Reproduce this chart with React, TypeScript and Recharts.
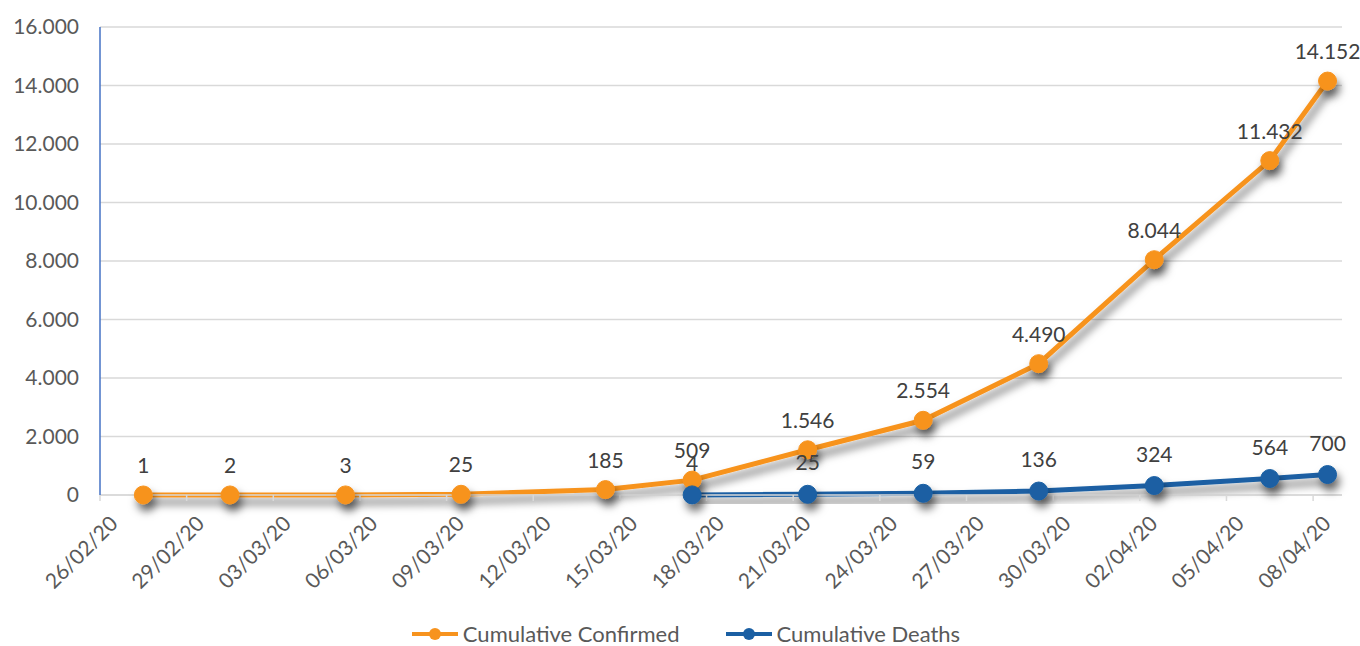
import React from "react";
import {
  LineChart,
  Line,
  XAxis,
  YAxis,
  CartesianGrid,
  LabelList,
} from "recharts";

const dates = [
  "27/02/20", "01/03/20", "05/03/20", "09/03/20", "14/03/20", "17/03/20",
  "21/03/20", "25/03/20", "29/03/20", "02/04/20", "06/04/20", "08/04/20",
];
const confirmed = [1, 2, 3, 25, 185, 509, 1546, 2554, 4490, 8044, 11432, 14152];
const deaths = [null, null, null, null, null, 4, 25, 59, 136, 324, 564, 700];

const tickLabels = [
  "26/02/20", "29/02/20", "03/03/20", "06/03/20", "09/03/20", "12/03/20",
  "15/03/20", "18/03/20", "21/03/20", "24/03/20", "27/03/20", "30/03/20",
  "02/04/20", "05/04/20", "08/04/20",
];
const yTicks = [0, 2000, 4000, 6000, 8000, 10000, 12000, 14000, 16000];

const ORANGE = "#F7931E";
const BLUE = "#1A5FA3";
const FONT = "Lato, 'Open Sans', sans-serif";

const toDay = (s: string) => {
  const [d, m, y] = s.split("/").map(Number);
  return Date.UTC(2000 + y, m - 1, d) / 86400000;
};
const START = toDay(tickLabels[0]);

const data = dates.map((d, i) => ({
  x: toDay(d) - START + 0.5,
  confirmed: confirmed[i],
  deaths: deaths[i],
}));
const xTicks = tickLabels.map((t) => toDay(t) - START);

const fmt = (v: number) =>
  String(Math.round(v)).replace(/\B(?=(\d{3})+(?!\d))/g, ".");

const DateTick = (props: any) => {
  const { x, y, payload } = props;
  const label = tickLabels[xTicks.indexOf(payload.value)] ?? "";
  return (
    <g transform={`translate(${x + 19},${y + 22})`}>
      <text
        x={0}
        y={0}
        transform="rotate(-45)"
        textAnchor="end"
        fill="#595959"
        fontSize={21}
        fontFamily={FONT}
      >
        {label}
      </text>
    </g>
  );
};

const LegendItem = ({ color, text }: { color: string; text: string }) => (
  <div style={{ display: "flex", alignItems: "center", marginRight: 46, height: 22 }}>
    <svg width={46} height={14} style={{ marginRight: 5 }}>
      <line x1={0} y1={7} x2={46} y2={7} stroke={color} strokeWidth={4} />
      <circle cx={23} cy={7} r={6} fill={color} />
    </svg>
    <span style={{ color: "#595959", fontSize: 22, lineHeight: "22px", fontFamily: FONT }}>{text}</span>
  </div>
);

export default function App() {
  return (
    <div style={{ position: "absolute", left: 0, top: 0, width: 1360, height: 646, background: "#fff", overflow: "hidden" }}>
      <style>{`.recharts-line-curve, .recharts-line-dots { filter: url(#lineShadow); }`}</style>
      <svg width={0} height={0} style={{ position: "absolute" }}>
        <defs>
          <filter id="lineShadow" x="-20%" y="-20%" width="140%" height="160%">
            <feDropShadow dx="3" dy="7" stdDeviation="4.5" floodColor="#000" floodOpacity="0.55" />
          </filter>
        </defs>
      </svg>
      <LineChart
        width={1360}
        height={646}
        data={data}
        margin={{ top: 27, right: 18, bottom: 0, left: 0 }}
      >
        <CartesianGrid vertical={false} stroke="#D9D9D9" strokeWidth={1.5} />
        <XAxis
          dataKey="x"
          type="number"
          domain={[0, 43]}
          ticks={xTicks}
          interval={0}
          height={151}
          stroke="#D9D9D9"
          strokeWidth={1.5}
          tickSize={6}
          tickMargin={2}
          tick={<DateTick />}
        />
        <YAxis
          type="number"
          domain={[0, 16000]}
          ticks={yTicks}
          width={100}
          tickFormatter={fmt}
          axisLine={{ stroke: "#4472C4", strokeWidth: 1.5 }}
          tickLine={false}
          tickSize={0}
          tickMargin={21}
          tick={{ fill: "#595959", fontSize: 21, fontFamily: FONT }}
        />
        <Line
          dataKey="confirmed"
          stroke={ORANGE}
          strokeWidth={5}
          dot={{ r: 9, fill: ORANGE, stroke: ORANGE, strokeWidth: 1 }}
          activeDot={false}
          isAnimationActive={false}
        >
          <LabelList
            dataKey="confirmed"
            position="top"
            offset={22}
            formatter={(v: any) => fmt(Number(v))}
            fill="#404040"
            fontSize={21}
            fontFamily={FONT}
          />
        </Line>
        <Line
          dataKey="deaths"
          stroke={BLUE}
          strokeWidth={5}
          dot={{ r: 9, fill: BLUE, stroke: BLUE, strokeWidth: 1 }}
          activeDot={false}
          isAnimationActive={false}
        >
          <LabelList
            dataKey="deaths"
            position="top"
            offset={24}
            formatter={(v: any) => (v == null ? "" : fmt(Number(v)))}
            fill="#404040"
            fontSize={21}
            fontFamily={FONT}
          />
        </Line>
      </LineChart>
      <div
        style={{
          position: "absolute",
          left: 0,
          top: 623,
          width: 1360,
          display: "flex",
          justifyContent: "center",
          paddingLeft: 58,
          boxSizing: "border-box",
        }}
      >
        <LegendItem color={ORANGE} text="Cumulative Confirmed" />
        <LegendItem color={BLUE} text="Cumulative Deaths" />
      </div>
    </div>
  );
}
